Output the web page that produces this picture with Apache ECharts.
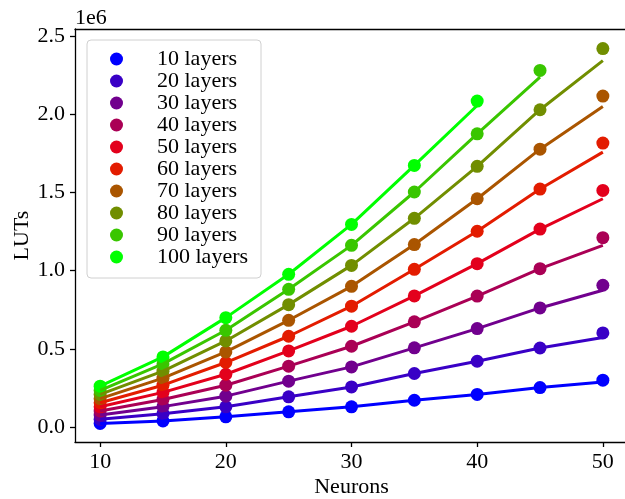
<!DOCTYPE html>
<html>
<head>
<meta charset="utf-8">
<script src="https://cdn.jsdelivr.net/npm/echarts@6/dist/echarts.min.js"></script>
<style>
  html, body { margin: 0; padding: 0; background: #fff; }
  #chart { width: 625px; height: 499px; }
</style>
</head>
<body>
<div id="chart"></div>
<script>
// Neuron counts on the x axis
const neurons = [10, 15, 20, 25, 30, 35, 40, 45, 50];

// Layer counts, one series each
const layerCounts = [10, 20, 30, 40, 50, 60, 70, 80, 90, 100];

// Measured LUT usage per layer count (one value per neuron count)
const luts10  = [24000, 40000, 66000, 98000, 130000, 172000, 209000, 253000, 300000];
const luts20  = [50000, 86000, 130000, 194000, 257000, 343000, 421000, 506000, 602000];
const luts30  = [77000, 131000, 198000, 294000, 385000, 507000, 630000, 762000, 907000];
const luts40  = [103000, 177000, 268000, 390000, 517000, 673000, 838000, 1013000, 1211000];
const luts50  = [130000, 222000, 338000, 487000, 645000, 839000, 1045000, 1266000, 1513000];
const luts60  = [156000, 268000, 413000, 581000, 773000, 1009000, 1252000, 1522000, 1816000];
const luts70  = [182000, 313000, 481000, 683000, 900000, 1167000, 1460000, 1777000, 2116000];
const luts80  = [209000, 358000, 551000, 783000, 1034000, 1335000, 1667000, 2029000, 2420000];
const luts90  = [235000, 404000, 619000, 881000, 1162000, 1503000, 1875000, 2280000];
const luts100 = [262000, 449000, 700000, 977000, 1296000, 1673000, 2084000];

// Fitted model curves for the same layer counts
const fit10  = [24000, 40000, 66000, 98000, 130000, 172000, 209000, 253000, 289000];
const fit20  = [50000, 86000, 130000, 194000, 257000, 343000, 421000, 506000, 573000];
const fit30  = [77000, 131000, 198000, 294000, 385000, 507000, 630000, 762000, 875000];
const fit40  = [103000, 177000, 268000, 390000, 517000, 673000, 838000, 1013000, 1162000];
const fit50  = [130000, 222000, 338000, 487000, 645000, 839000, 1045000, 1266000, 1460000];
const fit60  = [156000, 268000, 413000, 581000, 773000, 1009000, 1252000, 1522000, 1758000];
const fit70  = [182000, 313000, 481000, 683000, 900000, 1167000, 1460000, 1777000, 2050000];
const fit80  = [209000, 358000, 551000, 783000, 1034000, 1335000, 1667000, 2029000, 2343000];
const fit90  = [235000, 404000, 619000, 881000, 1162000, 1503000, 1875000, 2237000];
const fit100 = [262000, 449000, 700000, 977000, 1296000, 1673000, 2056000];

const measured = [luts10, luts20, luts30, luts40, luts50, luts60, luts70, luts80, luts90, luts100];
const fitted = [fit10, fit20, fit30, fit40, fit50, fit60, fit70, fit80, fit90, fit100];

// Blue -> red -> green colour ramp over the layer counts
const colors = ['#0000ff', '#3900c6', '#71008e', '#aa0055', '#e3001c',
                '#e31c00', '#aa5500', '#718e00', '#39c600', '#00ff00'];

const yTicks = [0, 500000, 1000000, 1500000, 2000000, 2500000];
const xTicks = [10, 20, 30, 40, 50];

const serif = "'Liberation Serif', 'Times New Roman', serif";
const spine = { show: true, onZero: false, lineStyle: { color: '#000', width: 1.3 } };

const pairs = (vals) => vals.map((v, i) => [neurons[i], v]);

const series = [];
const legendNames = [];
layerCounts.forEach((L, k) => {
  const name = L + ' layers';
  legendNames.push(name);
  series.push({
    name: name,
    type: 'scatter',
    data: pairs(measured[k]),
    symbol: 'circle',
    symbolSize: 13,
    itemStyle: { color: colors[k], opacity: 1 },
    emphasis: { disabled: true }
  });
  series.push({
    name: 'fit ' + L,
    type: 'line',
    data: pairs(fitted[k]),
    showSymbol: false,
    symbol: 'none',
    lineStyle: { color: colors[k], width: 3 },
    itemStyle: { color: colors[k] },
    emphasis: { disabled: true }
  });
});

const chart = echarts.init(document.getElementById('chart'), null, { renderer: 'canvas' });
chart.setOption({
  animation: false,
  backgroundColor: '#ffffff',
  title: {
    text: '1e6',
    left: 75,
    top: 7,
    padding: 0,
    textStyle: { fontFamily: serif, fontSize: 22, fontWeight: 'normal', color: '#000' }
  },
  grid: {
    left: 75, top: 29, width: 553, height: 413,
    show: false,
    containLabel: false,
    outerBoundsMode: 'none'
  },
  legend: {
    data: legendNames,
    orient: 'vertical',
    left: 87, top: 40,
    padding: [8, 13, 10, 23],
    itemWidth: 13, itemHeight: 13, itemGap: 0,
    icon: 'circle',
    backgroundColor: 'rgba(255,255,255,0.8)',
    borderColor: '#d0d0d0', borderWidth: 1, borderRadius: 4,
    selectedMode: false,
    textStyle: {
      fontFamily: serif, fontSize: 22, color: '#000',
      lineHeight: 22, padding: [0, 0, 0, 29]
    }
  },
  xAxis: [{
    type: 'value',
    min: 8, max: 52,
    name: 'Neurons',
    nameLocation: 'middle',
    nameGap: 34,
    nameMoveOverlap: false,
    nameTextStyle: { fontFamily: serif, fontSize: 22, color: '#000' },
    axisLine: spine,
    axisTick: { show: true, length: 5, lineStyle: { color: '#000', width: 1.3 }, customValues: xTicks },
    axisLabel: { fontFamily: serif, fontSize: 22, color: '#000', margin: 9, customValues: xTicks },
    splitLine: { show: false }
  }, {
    // top spine of the plot frame
    type: 'value', position: 'top', min: 8, max: 52,
    axisLine: spine, axisTick: { show: false }, axisLabel: { show: false }, splitLine: { show: false }
  }],
  yAxis: [{
    type: 'value',
    min: -95000, max: 2545000,
    name: 'LUTs',
    nameLocation: 'middle',
    nameRotate: 90,
    nameGap: 42,
    nameMoveOverlap: false,
    nameTextStyle: { fontFamily: serif, fontSize: 22, color: '#000' },
    axisLine: spine,
    axisTick: { show: true, length: 5, lineStyle: { color: '#000', width: 1.3 }, customValues: yTicks },
    axisLabel: {
      fontFamily: serif, fontSize: 22, color: '#000', margin: 10, customValues: yTicks,
      formatter: (v) => (v / 1e6).toFixed(1)
    },
    splitLine: { show: false }
  }, {
    // right spine of the plot frame
    type: 'value', position: 'right', min: -95000, max: 2545000,
    axisLine: spine, axisTick: { show: false }, axisLabel: { show: false }, splitLine: { show: false }
  }],
  series: series
});
</script>
</body>
</html>
